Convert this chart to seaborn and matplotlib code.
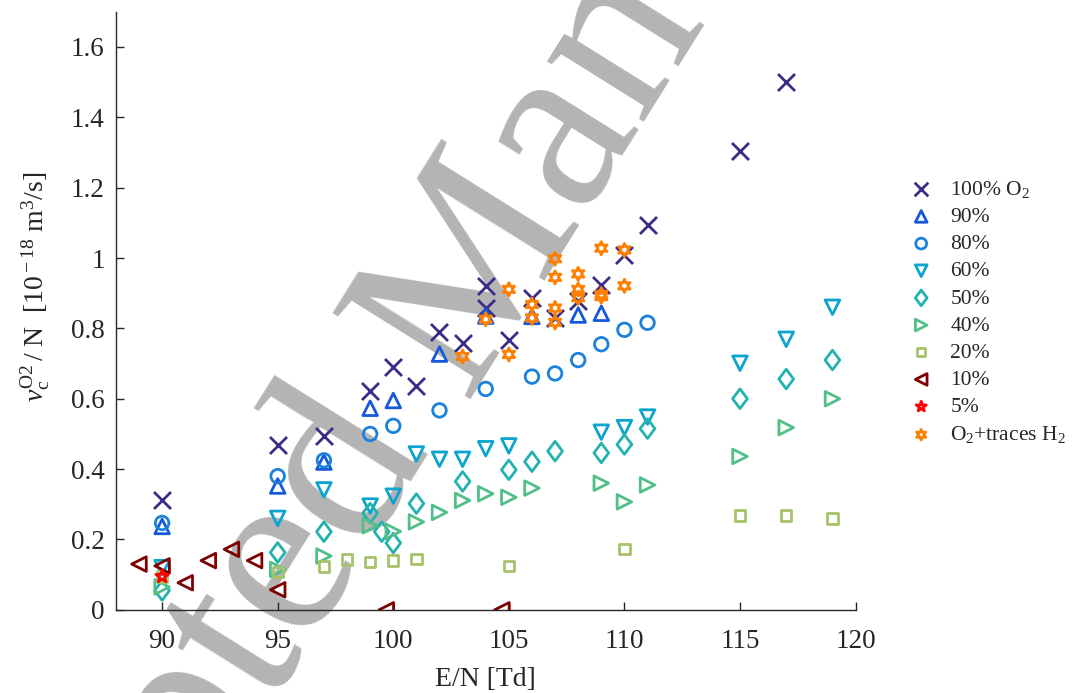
import numpy as np
import pandas as pd
import matplotlib
matplotlib.use("Agg")
import matplotlib.pyplot as plt
from matplotlib.path import Path
import seaborn as sns

# ---- measured collision-rate coefficients, grouped by O2 fraction ----
x_100 = [90, 95, 97, 99, 100, 101, 102, 103, 104, 104, 105, 106, 107, 108, 109, 110, 111, 115, 117]
y_100 = [0.312, 0.468, 0.494, 0.623, 0.690, 0.636, 0.791, 0.758, 0.921, 0.857, 0.767, 0.887, 0.830,
         0.879, 0.922, 1.010, 1.093, 1.305, 1.500]

x_90 = [90, 95, 97, 99, 100, 102, 104, 106, 108, 109]
y_90 = [0.237, 0.352, 0.420, 0.573, 0.595, 0.727, 0.835, 0.834, 0.838, 0.843]

x_80 = [90, 95, 97, 99, 100, 102, 104, 106, 107, 108, 109, 110, 111]
y_80 = [0.247, 0.380, 0.425, 0.500, 0.523, 0.567, 0.628, 0.663, 0.672, 0.710, 0.755, 0.796, 0.816]

x_60 = [90, 95, 97, 99, 100, 101, 102, 103, 104, 105, 109, 110, 111, 115, 117, 119]
y_60 = [0.120, 0.260, 0.341, 0.295, 0.323, 0.443, 0.428, 0.428, 0.458, 0.466, 0.505, 0.518, 0.548,
        0.701, 0.769, 0.860]

x_50 = [90, 95, 97, 99, 99.5, 100, 101, 103, 105, 106, 107, 109, 110, 111, 115, 117, 119]
y_50 = [0.055, 0.163, 0.222, 0.275, 0.222, 0.190, 0.302, 0.365, 0.398, 0.421, 0.451, 0.446, 0.470,
        0.515, 0.600, 0.656, 0.710]

x_40 = [90, 95, 97, 99, 100, 101, 102, 103, 104, 105, 106, 109, 110, 111, 115, 117, 119]
y_40 = [0.065, 0.115, 0.153, 0.239, 0.223, 0.250, 0.277, 0.311, 0.330, 0.320, 0.346, 0.360, 0.307,
        0.355, 0.436, 0.518, 0.600]

x_20 = [90, 95, 97, 98, 99, 100, 101, 105, 110, 115, 117, 119]
y_20 = [0.095, 0.108, 0.123, 0.143, 0.135, 0.140, 0.144, 0.125, 0.172, 0.268, 0.268, 0.260]

x_10 = [89, 90, 91, 92, 93, 94, 95, 99.7, 104.7]
y_10 = [0.130, 0.125, 0.077, 0.140, 0.172, 0.140, 0.057, 0.0, 0.0]

x_5 = [90]
y_5 = [0.095]

x_h2 = [103, 104, 105, 105, 106, 106, 107, 107, 107, 107, 108, 108, 108, 109, 109, 109, 110, 110]
y_h2 = [0.720, 0.826, 0.911, 0.726, 0.868, 0.830, 0.998, 0.945, 0.858, 0.817, 0.955, 0.911, 0.887,
        1.028, 0.897, 0.890, 1.023, 0.921]

labels = ["100% O$_2$", "90%", "80%", "60%", "50%", "40%", "20%", "10%", "5%", "O$_2$+traces H$_2$"]
x_ticks = [90, 95, 100, 105, 110, 115, 120]
y_ticks = [0, 0.2, 0.4, 0.6, 0.8, 1.0, 1.2, 1.4, 1.6]
y_tick_labels = ["0", "0.2", "0.4", "0.6", "0.8", "1", "1.2", "1.4", "1.6"]

# ---- styling ----
sns.set_theme(style="ticks")
plt.rcParams["font.family"] = ["Liberation Serif", "DejaVu Serif"]
plt.rcParams["mathtext.fontset"] = "custom"
plt.rcParams["mathtext.rm"] = "Liberation Serif"
plt.rcParams["mathtext.it"] = "Liberation Serif:italic"
plt.rcParams["mathtext.bf"] = "Liberation Serif:bold"

# six-pointed star outline for the H2-trace series
hexagram = (6, 1, 0)
# diamond slightly taller than wide
diamond = Path([(0, 1), (0.75, 0), (0, -1), (-0.75, 0), (0, 1)],
               [Path.MOVETO, Path.LINETO, Path.LINETO, Path.LINETO, Path.CLOSEPOLY])

series = [
    (x_100, y_100, "x", "#3b2d87", 150),
    (x_90, y_90, "^", "#1458dc", 110),
    (x_80, y_80, "o", "#1a82da", 95),
    (x_60, y_60, "v", "#0aa4cf", 110),
    (x_50, y_50, diamond, "#22b3ae", 200),
    (x_40, y_40, ">", "#52bf88", 110),
    (x_20, y_20, "s", "#a6c26a", 55),
    (x_10, y_10, "<", "#7f0000", 110),
    (x_5, y_5, "*", "#ff0000", 90),
    (x_h2, y_h2, hexagram, "#ff8000", 90),
]

fig = plt.figure(figsize=(10.83, 6.93), dpi=100)
ax = fig.add_axes([0.107, 0.12, 0.683, 0.863])
ax.set_facecolor("none")

# watermark across the page
wm_kw = dict(fontsize=178, color="#b4b4b4", rotation=58, rotation_mode="anchor",
             va="baseline", zorder=-5, family="Liberation Serif")
wm_x, wm_y = 0.428, 0.425
fig.text(wm_x, wm_y, "Accepted ", ha="right", **wm_kw)
fig.text(wm_x, wm_y, "Manuscript", ha="left", **wm_kw)

for (xs, ys, mk, col, size), lab in zip(series, labels):
    df = pd.DataFrame({"E/N": xs, "nu": ys})
    if isinstance(mk, str) and mk == "x":
        sns.scatterplot(data=df, x="E/N", y="nu", marker=mk, s=size, color=col,
                        linewidth=2.0, ax=ax, label=lab, zorder=3)
    else:
        sns.scatterplot(data=df, x="E/N", y="nu", marker=mk, s=size,
                        facecolor="none", edgecolor=col, linewidth=2.0,
                        ax=ax, label=lab, zorder=3)

ax.set_xlim(88, 120)
ax.set_ylim(0, 1.7)
ax.set_xticks(x_ticks)
ax.set_xticklabels([str(t) for t in x_ticks])
ax.set_yticks(y_ticks)
ax.set_yticklabels(y_tick_labels)
ax.tick_params(direction="in", length=6, width=1.0, labelsize=19.5, colors="#262626")
ax.tick_params(axis="x", pad=14)
ax.tick_params(axis="y", pad=8)
for side in ("top", "right"):
    ax.spines[side].set_visible(False)
for side in ("left", "bottom"):
    ax.spines[side].set_color("#262626")
    ax.spines[side].set_linewidth(1.0)

ax.set_xlabel("E/N [Td]", fontsize=20, color="#262626", labelpad=9)
ax.set_ylabel(r"$\nu_{\rm c}^{\rm O2}\,$/ N  [10$^{\rm -18}$ m$^{\rm 3}$/s]", fontsize=20,
              color="#262626")
ax.yaxis.set_label_coords(-0.086, 0.54)

leg = ax.legend(loc="upper left", bbox_to_anchor=(1.048, 0.735), frameon=False,
                fontsize=15.5, markerscale=0.8, labelspacing=0.33, handletextpad=0.35,
                borderaxespad=0)

fig.savefig("out.png", dpi=100)
